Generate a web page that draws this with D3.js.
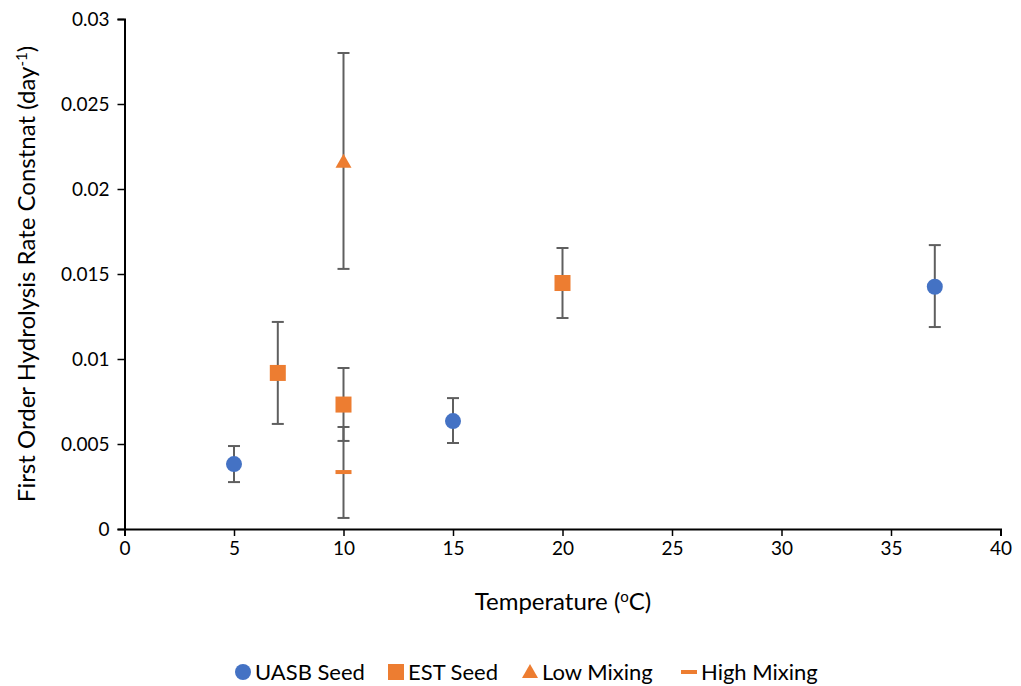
<!DOCTYPE html>
<html>
<head>
<meta charset="utf-8">
<script src="https://cdn.jsdelivr.net/npm/d3@7"></script>
<style>
  html, body { margin: 0; padding: 0; background: #fff; }
  svg { display: block; font-family: Lato, "Open Sans", sans-serif; }
</style>
</head>
<body>
<svg id="chart" width="1021" height="686"></svg>
<script>
// Series: temperature (°C), rate constant (day^-1), error bar ends
const seriesNames = ["UASB Seed", "EST Seed", "Low Mixing", "High Mixing"];
const seriesColors = ["#4472C4", "#ED7D31", "#ED7D31", "#ED7D31"];
const seriesShapes = ["circle", "square", "triangle", "dash"];

const uasbTemp = [5, 15, 37];
const uasbRate = [0.00382, 0.00635, 0.01425];
const uasbHigh = [0.00488, 0.0077, 0.0167];
const uasbLow = [0.00276, 0.00506, 0.01188];

const estTemp = [7, 10, 20];
const estRate = [0.00918, 0.00732, 0.01447];
const estHigh = [0.01218, 0.00947, 0.01653];
const estLow = [0.00618, 0.00518, 0.01241];

const lowMixTemp = [10];
const lowMixRate = [0.0216];
const lowMixHigh = [0.028];
const lowMixLow = [0.0153];

const highMixTemp = [10];
const highMixRate = [0.00335];
const highMixHigh = [0.006];
const highMixLow = [0.00065];

const xTicks = [0, 5, 10, 15, 20, 25, 30, 35, 40];
const yTicks = [0, 0.005, 0.01, 0.015, 0.02, 0.025, 0.03];

const series = [
  { t: uasbTemp, v: uasbRate, hi: uasbHigh, lo: uasbLow },
  { t: estTemp, v: estRate, hi: estHigh, lo: estLow },
  { t: lowMixTemp, v: lowMixRate, hi: lowMixHigh, lo: lowMixLow },
  { t: highMixTemp, v: highMixRate, hi: highMixHigh, lo: highMixLow }
].map((s, i) => ({
  name: seriesNames[i], color: seriesColors[i], shape: seriesShapes[i],
  points: s.t.map((t, j) => ({ t, v: s.v[j], hi: s.hi[j], lo: s.lo[j] }))
}));

const svg = d3.select("#chart");
const x = d3.scaleLinear().domain([0, 40]).range([124.5, 1000.5]);
const y = d3.scaleLinear().domain([0, 0.03]).range([529, 19]);

const fontSize = 19;
const textColor = "#000";

// Axes
const xAxis = svg.append("g").attr("transform", `translate(0,${y(0)})`)
  .call(d3.axisBottom(x).tickValues(xTicks).tickSize(7).tickPadding(6).tickFormat(d3.format("d")));
const yAxis = svg.append("g").attr("transform", `translate(${x(0)},0)`)
  .call(d3.axisLeft(y).tickValues(yTicks).tickSize(7).tickPadding(8)
    .tickFormat(d => d === 0 ? "0" : String(+d.toFixed(3))));
[xAxis, yAxis].forEach(g => {
  g.select(".domain").attr("stroke", "#000").attr("stroke-width", 2);
  g.selectAll(".tick line").attr("stroke", "#000").attr("stroke-width", 1.5);
  g.selectAll(".tick text").attr("fill", textColor)
    .style("font-size", fontSize + "px").style("font-family", "Lato, 'Open Sans', sans-serif");
});

// Axis titles
const xTitle = svg.append("text")
  .attr("x", 563).attr("y", 610).attr("text-anchor", "middle")
  .attr("fill", textColor).style("font-size", "24px");
xTitle.append("tspan").text("Temperature (");
xTitle.append("tspan").attr("dy", -8).style("font-size", "15px").text("o");
xTitle.append("tspan").attr("dy", 8).text("C)");

const yTitle = svg.append("text")
  .attr("transform", `translate(35,${274}) rotate(-90)`)
  .attr("text-anchor", "middle")
  .attr("fill", textColor).style("font-size", "24px");
yTitle.append("tspan").text("First Order Hydrolysis Rate Constnat (day");
yTitle.append("tspan").attr("dy", -8).style("font-size", "15px").text("-1");
yTitle.append("tspan").attr("dy", 8).text(")");

// Marker drawing
function drawMarker(g, shape, color, cx, cy) {
  if (shape === "circle") {
    g.append("circle").attr("cx", cx).attr("cy", cy).attr("r", 8).attr("fill", color);
  } else if (shape === "square") {
    g.append("rect").attr("x", cx - 8).attr("y", cy - 8).attr("width", 16).attr("height", 16).attr("fill", color);
  } else if (shape === "triangle") {
    g.append("path").attr("d", `M${cx},${cy - 8}L${cx + 8},${cy + 6}L${cx - 8},${cy + 6}Z`).attr("fill", color);
  } else if (shape === "dash") {
    g.append("rect").attr("x", cx - 8).attr("y", cy - 2).attr("width", 16).attr("height", 4).attr("fill", color);
  }
}

// Error bars then markers
const errColor = "#5f5f5f";
const errG = svg.append("g");
series.forEach(s => s.points.forEach(p => {
  const cx = x(p.t);
  errG.append("line").attr("x1", cx).attr("x2", cx).attr("y1", y(p.hi)).attr("y2", y(p.lo))
    .attr("stroke", errColor).attr("stroke-width", 2);
  [p.hi, p.lo].forEach(e => errG.append("line")
    .attr("x1", cx - 6).attr("x2", cx + 6).attr("y1", y(e)).attr("y2", y(e))
    .attr("stroke", errColor).attr("stroke-width", 2));
}));
const markG = svg.append("g");
series.forEach(s => s.points.forEach(p => drawMarker(markG, s.shape, s.color, x(p.t), y(p.v))));

// Legend
const legendX = [243, 396, 530, 689];
const legendY = 672;
const legG = svg.append("g");
series.forEach((s, i) => {
  drawMarker(legG, s.shape, s.color, legendX[i], legendY);
  legG.append("text").attr("x", legendX[i] + 12).attr("y", legendY + 8)
    .attr("fill", textColor).style("font-size", "22px").text(s.name);
});
</script>
</body>
</html>
